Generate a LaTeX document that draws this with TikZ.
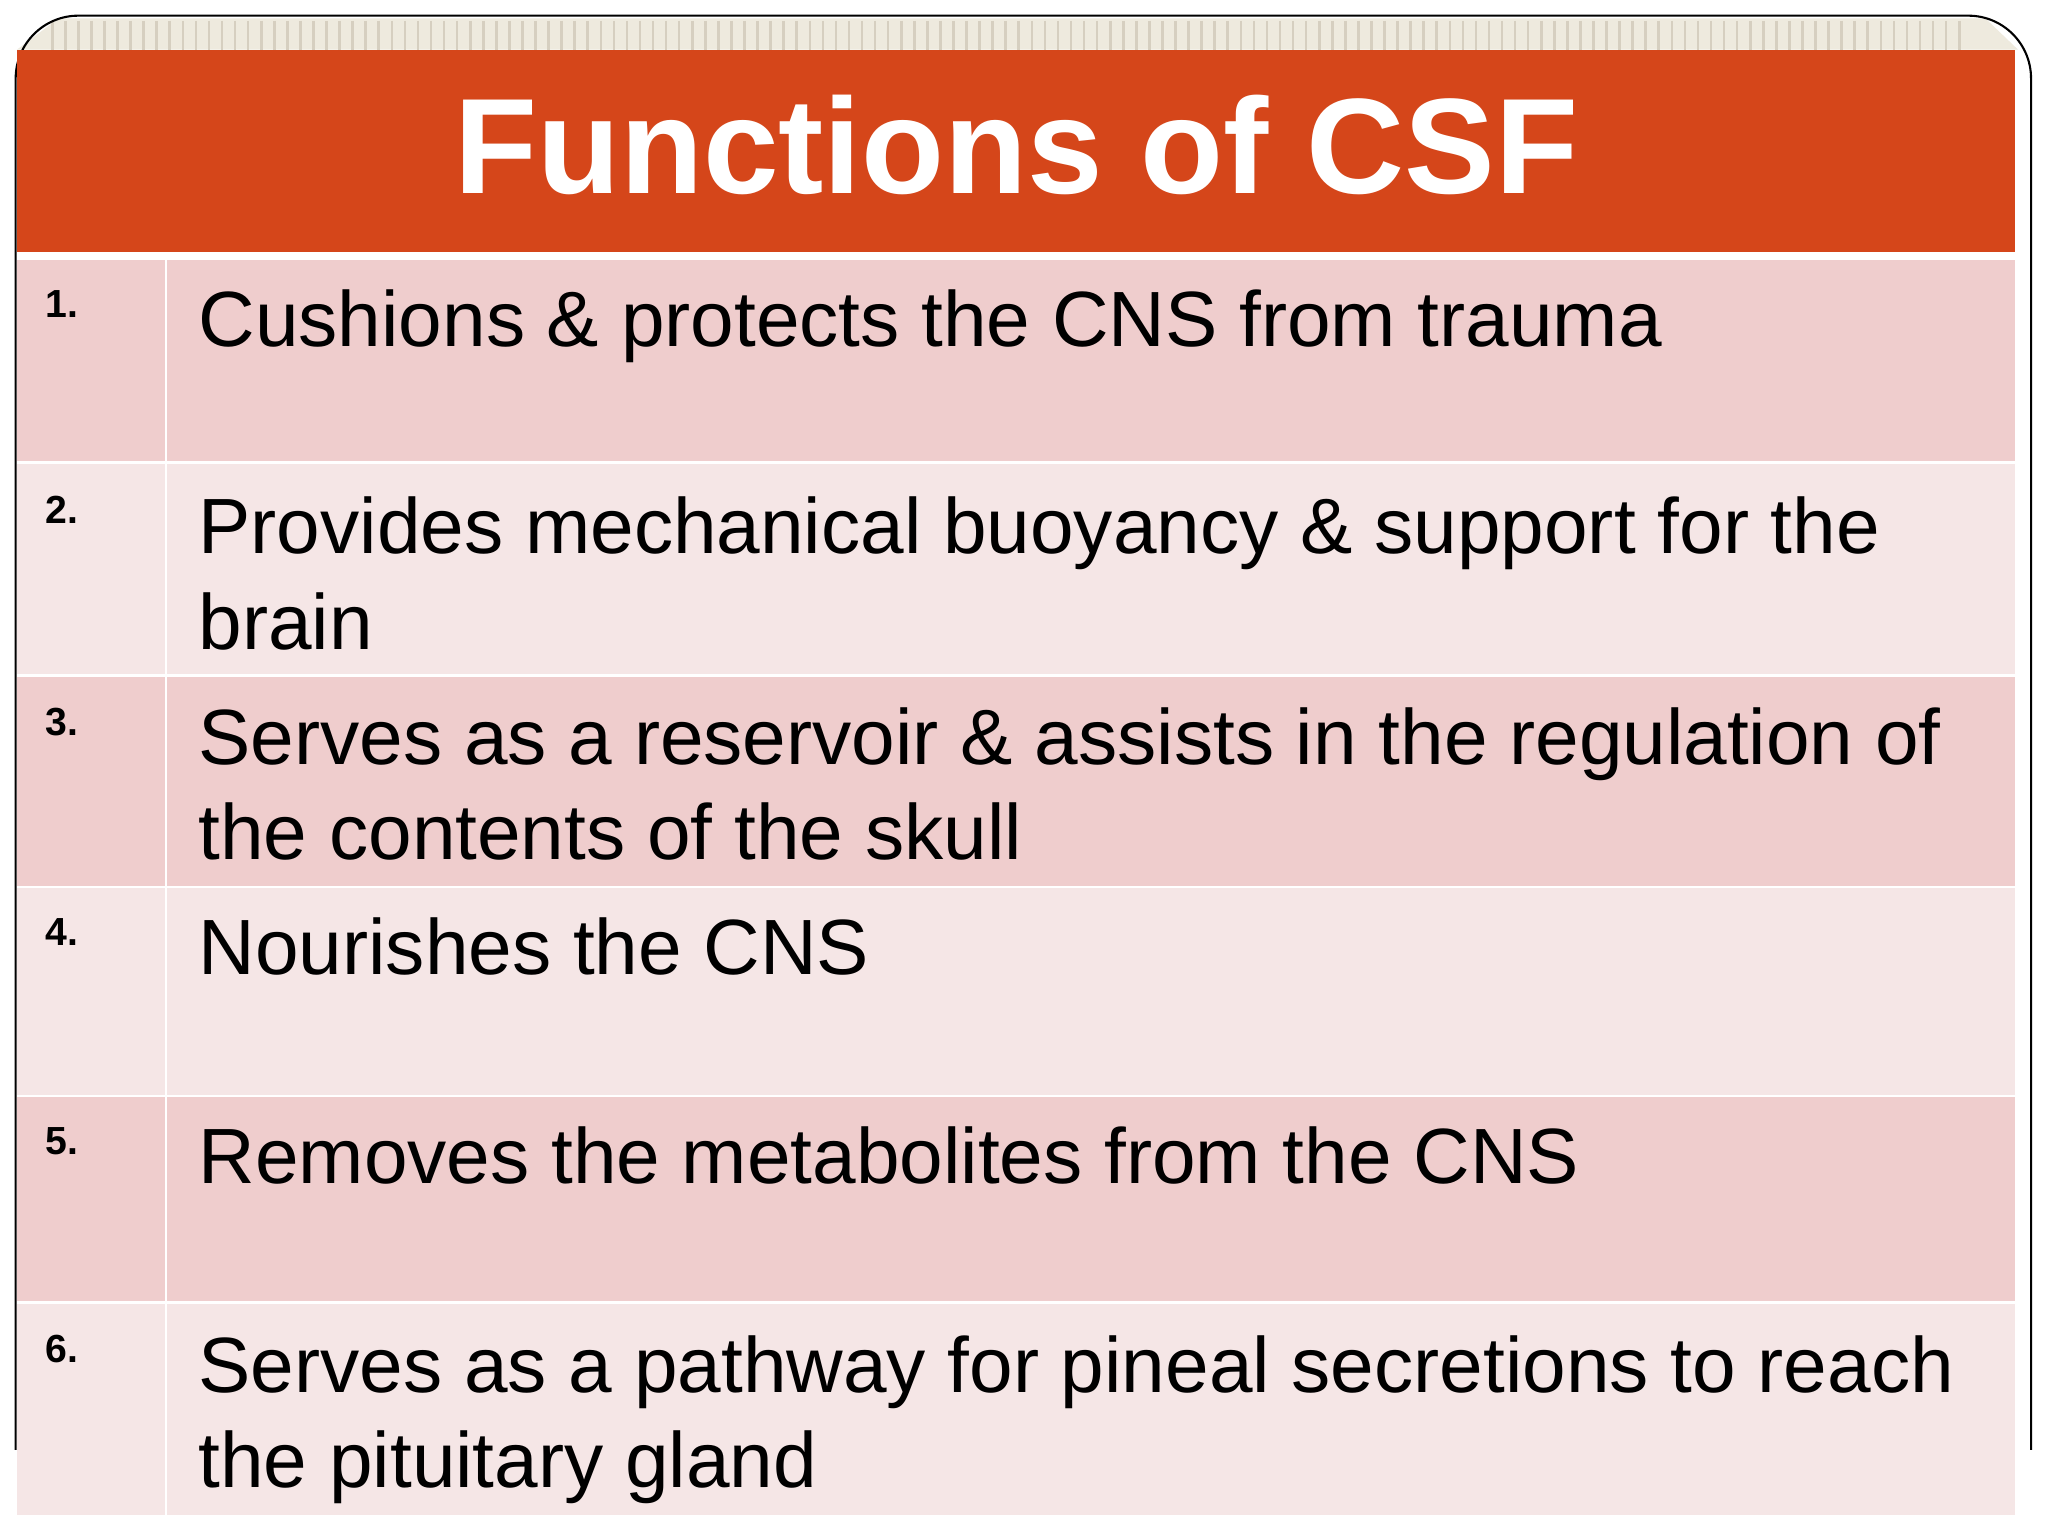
\documentclass[tikz,border=0pt]{standalone}
\usepackage{fontspec}
\setmainfont{Liberation Sans}
\definecolor{pinkA}{RGB}{239,205,205}
\definecolor{pinkB}{RGB}{245,230,230}
\definecolor{band}{RGB}{238,234,222}
\definecolor{bandline}{RGB}{214,207,192}
\definecolor{hdr}{RGB}{213,70,26}
\begin{document}
\begin{tikzpicture}[x=0.5pt,y=-0.5pt,
  rowA/.style={fill=pinkA},
  rowB/.style={fill=pinkB},
  num/.style={anchor=base west,font=\fontsize{15pt}{17pt}\selectfont\bfseries},
  txt/.style={anchor=base west,font=\fontsize{30pt}{36.5pt}\selectfont,align=left}]
\useasboundingbox (0,0) rectangle (1568,1176);
\fill[white] (0,0) rectangle (1568,1176);
% top band
\fill[band] (45,14) -- (1520,14) -- (1545,38) -- (13,38) -- cycle;
\foreach \i in {0,...,146} {\draw[bandline,line width=1pt] (40+\i*10,16) -- (40+\i*10,38);}
\draw[line width=0.8pt] (12,1110) -- (12,60) arc[start angle=180,end angle=270,radius=48] -- (1507,12) arc[start angle=270,end angle=360,radius=48] -- (1555,1110);
% header
\fill[hdr] (13,38) rectangle (1543,193);
\node[font=\fontsize{52pt}{60pt}\selectfont\bfseries,text=white,anchor=base] (title) at (778,148) {Functions of CSF};
% rows
\foreach \a/\b/\s in {199/353/rowA,355/516/rowB,518/678/rowA,680/838/rowB,840/996/rowA,998/1160/rowB}{
  \fill[\s] (13,\a) rectangle (126,\b);
  \fill[\s] (128,\a) rectangle (1543,\b);
}
\node[num] (n1) at (28,243) {1.};
\node[num] (n2) at (28,401) {2.};
\node[num] (n3) at (28,563) {3.};
\node[num] (n4) at (28,724) {4.};
\node[num] (n5) at (28,884) {5.};
\node[num] (n6) at (28,1043) {6.};
\node[txt] (t1) at (145,265) {Cushions \& protects the CNS from trauma};
\node[txt] (t2) at (145,497) {Provides mechanical buoyancy \& support for the\\brain};
\node[txt] (t3) at (145,658) {Serves as a reservoir \& assists in the regulation of\\the contents of the skull};
\node[txt] (t4) at (145,746) {Nourishes the CNS};
\node[txt] (t5) at (145,906) {Removes the metabolites from the CNS};
\node[txt] (t6) at (145,1139) {Serves as a pathway for pineal secretions to reach\\the pituitary gland};
\end{tikzpicture}
\end{document}
